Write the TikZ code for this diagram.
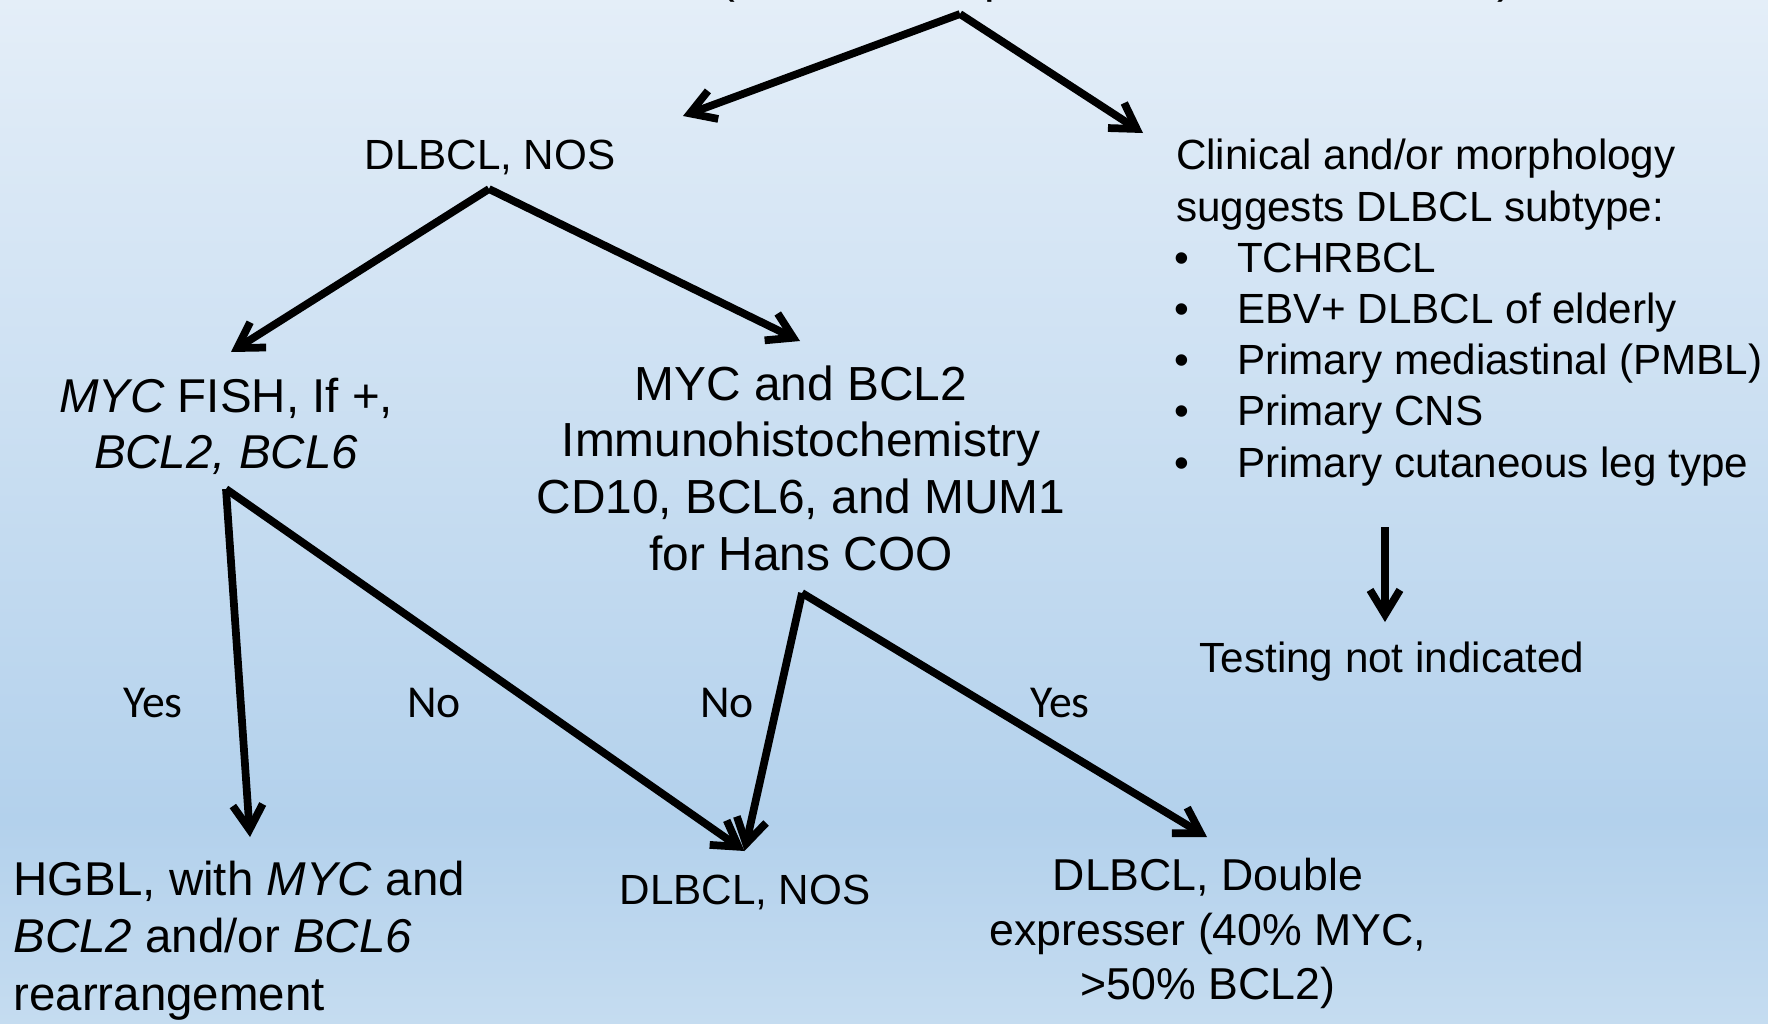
\documentclass[tikz,border=0pt]{standalone}
\usepackage{fontspec}
\setmainfont{Liberation Sans}
\newfontfamily\calibrifont{Carlito}
\usetikzlibrary{arrows.meta}
\definecolor{bgtop}{RGB}{228,238,248}
\definecolor{bgmid}{RGB}{179,209,236}
\definecolor{bgbot}{RGB}{197,220,240}
\newcommand{\fsz}[2]{\fontsize{#1}{#2}\selectfont}
\begin{document}
\begin{tikzpicture}[x=0.01cm,y=-0.01cm,
  arr/.style={line width=2.2pt,-{Straight Barb[length=7pt,width=8.5pt]}},
  lab/.style={inner sep=0pt,outer sep=0pt,text=black},
  yn/.style={lab,font=\calibrifont\fsz{13}{15.6}},
  rtxt/.style={lab,anchor=base west,font=\fsz{12}{14.6}}]
\clip (0,0) rectangle (1768,1024);
\useasboundingbox (0,0) rectangle (1768,1024);
% background gradient
\shade[top color=bgtop,bottom color=bgmid] (0,0) rectangle (1768,821);
\shade[top color=bgmid,bottom color=bgbot] (0,820) rectangle (1768,1024);

% fragments of the cut-off title line
\node[lab,anchor=base,font=\fsz{13.5}{16}] (frag1) at (727,-8) {(};
\node[lab,anchor=base,font=\fsz{13.5}{16}] (frag2) at (998,-8) {p};
\node[lab,anchor=base,font=\fsz{13.5}{16}] (frag3) at (1505,-8) {)};

% text nodes
\node[lab,font=\fsz{12}{14.6}] (nos1) at (490,157) {DLBCL, NOS};

\node[rtxt] (r1) at (1176,169.5) {Clinical and/or morphology};
\node[rtxt] (r2) at (1176,221) {suggests DLBCL subtype:};
\node[rtxt] (r3) at (1174,272) {\makebox[0.63cm][l]{\textbullet}TCHRBCL};
\node[rtxt] (r4) at (1174,323) {\makebox[0.63cm][l]{\textbullet}EBV+ DLBCL of elderly};
\node[rtxt] (r5) at (1174,374) {\makebox[0.63cm][l]{\textbullet}Primary mediastinal (PMBL)};
\node[rtxt] (r6) at (1174,425) {\makebox[0.63cm][l]{\textbullet}Primary CNS};
\node[rtxt] (r7) at (1174,477) {\makebox[0.63cm][l]{\textbullet}Primary cutaneous leg type};

\node[lab,font=\fsz{12}{14.6}] (testing) at (1392,662) {Testing not indicated};

\node[lab,align=center,font=\fsz{13.5}{16}] (fish) at (226,426)
  {\textit{MYC} FISH, If +,\\ \textit{BCL2, BCL6}};
\node[lab,align=center,font=\fsz{13.6}{16.1}] (ihc) at (801,468)
  {MYC and BCL2\\ Immunohistochemistry\\ CD10, BCL6, and MUM1\\ for Hans COO};

\node[lab,align=left,anchor=west,font=\fsz{13.5}{16.4}] (hgbl) at (13.5,940.5)
  {HGBL, with \textit{MYC} and\\ \textit{BCL2} and/or \textit{BCL6}\\ rearrangement};
\node[lab,font=\fsz{12}{14.6}] (nos2) at (745,892) {DLBCL, NOS};
\node[lab,align=center,font=\fsz{12.7}{15.4}] (dexp) at (1208,933.5)
  {DLBCL, Double\\ expresser (40\% MYC,\\ {>}50\% BCL2)};

\node[yn] (yes1) at (153,702.5) {Yes};
\node[yn] (no1) at (434,702.5) {No};
\node[yn] (no2) at (727,702.5) {No};
\node[yn] (yes2) at (1060,702.5) {Yes};

% connector end points
\coordinate (topsplit) at (960,14);
\coordinate (tonos1) at (683,116);
\coordinate (toclin) at (1143,133);
\coordinate (nossplit) at (489,189);
\coordinate (tofish) at (231,352);
\coordinate (toihc) at (800,341);
\coordinate (fishsplit) at (226,489);
\coordinate (tohgbl) at (250,837);
\coordinate (tonos2) at (744.5,851);
\coordinate (ihcsplit) at (802,593);
\coordinate (todexp) at (1207,837);
\coordinate (listend) at (1385,527);
\coordinate (totesting) at (1385,622);

% connectors
\draw[arr] (topsplit) -- (tonos1);
\draw[arr] (topsplit) -- (toclin);
\draw[arr] (nossplit) -- (tofish);
\draw[arr] (nossplit) -- (toihc);
\draw[arr] (fishsplit) -- (tohgbl);
\draw[arr] (fishsplit) -- (tonos2);
\draw[arr] (ihcsplit) -- (tonos2);
\draw[arr] (ihcsplit) -- (todexp);
\draw[arr] (listend) -- (totesting);
\end{tikzpicture}
\end{document}
